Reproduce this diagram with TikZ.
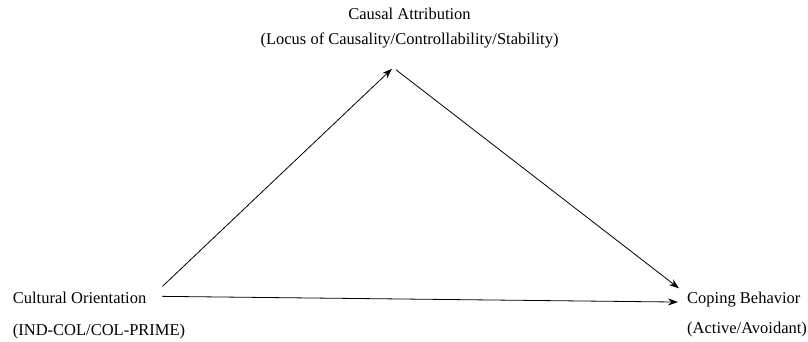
\documentclass[tikz,border=0pt]{standalone}
\usepackage{fontspec}
\setmainfont{Liberation Serif}
\usetikzlibrary{arrows.meta}

\begin{document}
\begin{tikzpicture}[x=1pt, y=1pt,
    label/.style={inner sep=0pt, font=\fontsize{16.5}{20}\selectfont},
    arr/.style={line width=0.8pt, -{Stealth[length=10pt, width=7pt]}}]
    \useasboundingbox (0, 0) rectangle (808, 341);

    \node[label, anchor=base] (attr) at (409.5, 322) {Causal Attribution};
    \node[label, anchor=base] (locus) at (409.5, 297) {(Locus of Causality/Controllability/Stability)};
    \node[label, anchor=base west] (culture) at (12.7, 38) {Cultural Orientation};
    \node[label, anchor=base west] (indcol) at (12.7, 6) {(IND-COL/COL-PRIME)};
    \node[label, anchor=base west] (coping) at (687, 38) {Coping Behavior};
    \node[label, anchor=base west] (active) at (687, 8) {(Active/Avoidant)};

    \draw[arr] ([shift={(16, 5)}]culture.north east) -- ([shift={(-17.5, -21)}]locus.south);
    \draw[arr] ([shift={(-13.5, -22)}]locus.south) -- ([shift={(-8, 3)}]coping.north west);
    \draw[arr] ([shift={(16, 1)}]culture.east) -- ([shift={(-9, -3)}]coping.west);
\end{tikzpicture}
\end{document}
